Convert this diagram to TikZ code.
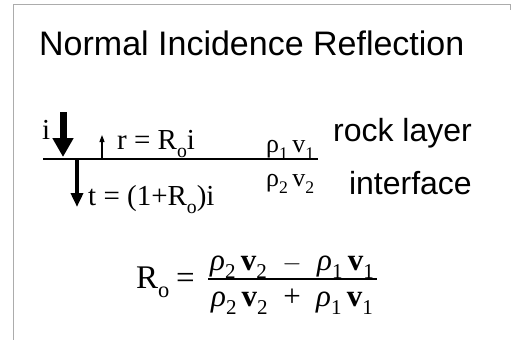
\documentclass[tikz,border=0pt]{standalone}
\usepackage{fontspec}
\usepackage{amsmath}
\setmainfont{Liberation Serif}
\newfontfamily\arialf{Liberation Sans}
\usetikzlibrary{arrows.meta}
\tikzset{
  sanslbl/.style={font=\arialf\fontsize{#1}{#1}\selectfont, inner sep=0pt},
  seriflbl/.style={font=\fontsize{#1}{#1}\selectfont, inner sep=0pt},
  frameline/.style={draw=gray!65, line width=0.9pt},
  bigarrow/.style={line width=7pt, -{Triangle[width=20pt,length=19pt]}},
  midarrow/.style={line width=3.5pt, -{Triangle[width=12pt,length=14pt]}},
  smallarrow/.style={line width=1.1pt, -{Triangle[width=5pt,length=7pt]}},
}
\newcommand\lsub[1]{\raisebox{-0.28em}{\fontsize{0.68em}{0.68em}\selectfont #1}}
\begin{document}
\begin{tikzpicture}[x=1pt,y=-1pt]
\useasboundingbox (0,0) rectangle (512,340);
\fill[white] (0,0) rectangle (512,340);
% frame
\draw[frameline] (13,340) -- (13,4) -- (510,4) -- (510,10);
% title
\node[sanslbl=34, anchor=base west] (title) at (39,55) {Normal Incidence Reflection};
% interface line
\coordinate (lineL) at (43,159);
\coordinate (lineR) at (318,159);
\draw[line width=1.4pt] (lineL) -- (lineR);
% incident arrow
\coordinate (iTop) at (63,112);
\coordinate (iTip) at (63,157);
\draw[bigarrow] (iTop) -- (iTip);
\node[seriflbl=29, anchor=base west] (ilbl) at (42,139) {i};
% reflected arrow
\coordinate (rBase) at (102,159);
\coordinate (rTip) at (102,135);
\draw[smallarrow] (rBase) -- (rTip);
\node[seriflbl=29, anchor=base west] (rlbl) at (117,149) {r = R\lsub{o}i};
% transmitted arrow
\coordinate (tBase) at (77,159);
\coordinate (tTip) at (77,207);
\draw[midarrow] (tBase) -- (tTip);
\node[seriflbl=29, anchor=base west] (tlbl) at (88,205) {t = (1+R\lsub{o})i};
% layer properties
\node[seriflbl=26, anchor=base west] (p1) at (266,152) {ρ\lsub{1}\,v\lsub{1}};
\node[seriflbl=26, anchor=base west] (p2) at (266,186) {ρ\lsub{2}\,v\lsub{2}};
\node[sanslbl=32, anchor=base east] (rock) at (472,141) {rock layer};
\node[sanslbl=32, anchor=base east] (intf) at (472,194) {interface};
% formula
\node[seriflbl=33, anchor=base west] (Ro) at (136,288) {R\lsub{o}};
\node[seriflbl=33, anchor=base west] (eq) at (176,288) {=};
\node[seriflbl=31, anchor=base] (num) at (292,270) {{\itshape ρ}\lsub{2}\,\textbf{v}\lsub{2}\ \ $-$\ \ {\itshape ρ}\lsub{1}\,\textbf{v}\lsub{1}};
\coordinate (barL) at (208,279);
\coordinate (barR) at (377,279);
\draw[line width=1.2pt] (barL) -- (barR);
\node[seriflbl=31, anchor=base] (den) at (292,306) {{\itshape ρ}\lsub{2}\,\textbf{v}\lsub{2}\ \ +\ \ {\itshape ρ}\lsub{1}\,\textbf{v}\lsub{1}};
\end{tikzpicture}
\end{document}
